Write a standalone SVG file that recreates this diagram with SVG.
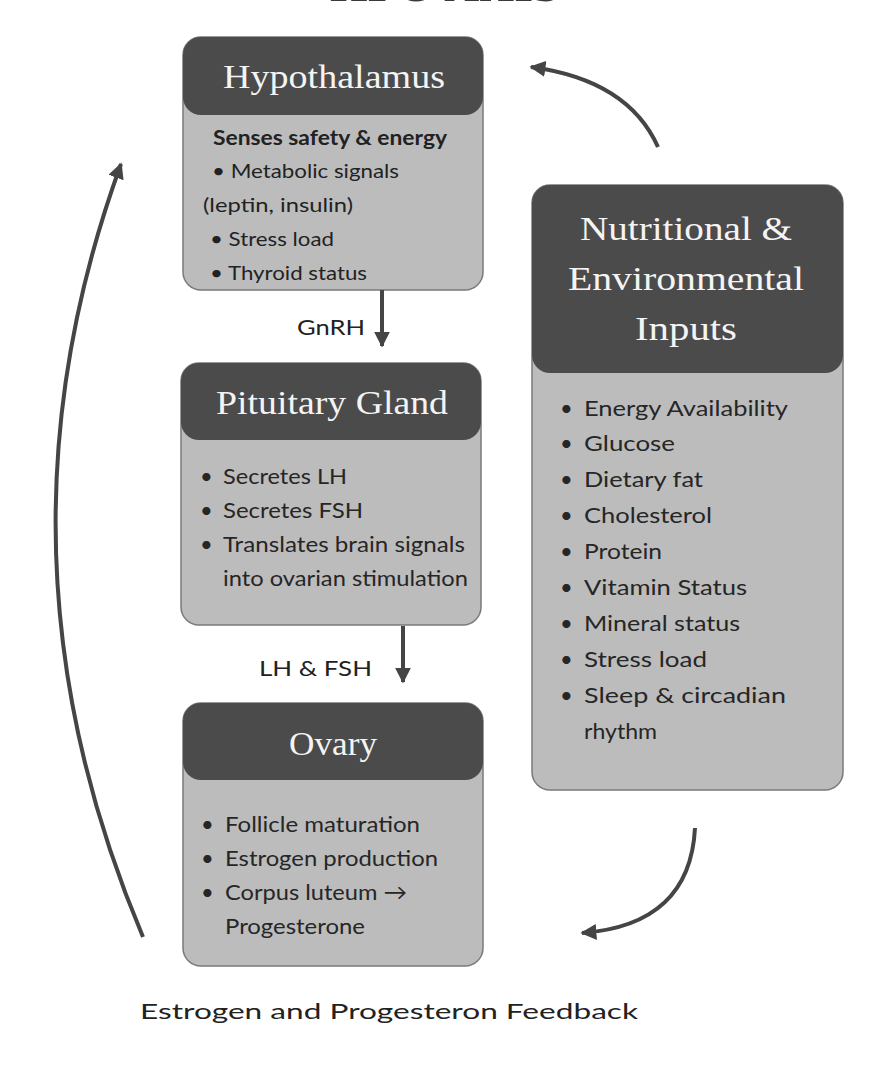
<svg xmlns="http://www.w3.org/2000/svg" width="892" height="1065" viewBox="0 0 892 1065">
  <style>
    .body { fill: #bcbcbc; stroke: #7a7a7a; stroke-width: 1.5; }
    .head { fill: #4b4b4b; }
    .title { font-family: "Liberation Serif", "DejaVu Serif", serif; fill: #f4f4f4; font-size: 34px; text-anchor: middle; }
    .txt { font-family: Lato, "Liberation Sans", sans-serif; fill: #262626; font-size: 22px; }
    .htxt { font-family: Lato, "Liberation Sans", sans-serif; fill: #222; font-size: 20px; }
    .conn { fill: none; stroke: #454545; stroke-width: 4; }
    .lbl { font-family: Lato, "Liberation Sans", sans-serif; fill: #222; font-size: 22px; }
  </style>
  <defs>
    <marker id="ah" viewBox="0 0 10 10" refX="9" refY="5" markerWidth="16" markerHeight="16" markerUnits="userSpaceOnUse" orient="auto">
      <path d="M0,0 L10,5 L0,10 z" fill="#454545"/>
    </marker>
  </defs>
  <rect width="892" height="1065" fill="#ffffff"/>

  <text x="445" y="1" text-anchor="middle" font-family="Liberation Serif, serif" font-weight="bold" font-size="50" fill="#3a3a3a" textLength="230" lengthAdjust="spacingAndGlyphs">HPO AXIS</text>

  <g id="hypothalamus">
    <rect class="body" x="183" y="37" width="300" height="253" rx="18"/>
    <rect class="head" x="183" y="37" width="300" height="78" rx="18"/>
    <text class="title" x="334" y="88" textLength="222" lengthAdjust="spacingAndGlyphs">Hypothalamus</text>
    <text class="htxt" x="213" y="145" font-weight="bold" textLength="234" lengthAdjust="spacingAndGlyphs">Senses safety &amp; energy</text>
    <text class="htxt" x="212" y="178" textLength="187" lengthAdjust="spacingAndGlyphs">• Metabolic signals</text>
    <text class="htxt" x="203" y="212" textLength="150" lengthAdjust="spacingAndGlyphs">(leptin, insulin)</text>
    <text class="htxt" x="210" y="246" textLength="124" lengthAdjust="spacingAndGlyphs">• Stress load</text>
    <text class="htxt" x="210" y="280" textLength="157" lengthAdjust="spacingAndGlyphs">• Thyroid status</text>
  </g>

  <g id="pituitary">
    <rect class="body" x="181" y="363" width="300" height="262" rx="18"/>
    <rect class="head" x="181" y="363" width="300" height="77" rx="18"/>
    <text class="title" x="332" y="414" textLength="232" lengthAdjust="spacingAndGlyphs">Pituitary Gland</text>
    <g class="txt">
      <text x="200" y="484">•</text>
      <text x="223" y="484" textLength="124" lengthAdjust="spacingAndGlyphs">Secretes LH</text>
      <text x="200" y="518">•</text>
      <text x="223" y="518" textLength="140" lengthAdjust="spacingAndGlyphs">Secretes FSH</text>
      <text x="200" y="552">•</text>
      <text x="223" y="552" textLength="242" lengthAdjust="spacingAndGlyphs">Translates brain signals</text>
      <text x="223" y="586" textLength="245" lengthAdjust="spacingAndGlyphs">into ovarian stimulation</text>
    </g>
  </g>

  <g id="ovary">
    <rect class="body" x="183" y="703" width="300" height="263" rx="18"/>
    <rect class="head" x="183" y="703" width="300" height="77" rx="18"/>
    <text class="title" x="333" y="755" textLength="88" lengthAdjust="spacingAndGlyphs">Ovary</text>
    <g class="txt">
      <text x="201" y="832">•</text>
      <text x="225" y="832" textLength="195" lengthAdjust="spacingAndGlyphs">Follicle maturation</text>
      <text x="201" y="866">•</text>
      <text x="225" y="866" textLength="213" lengthAdjust="spacingAndGlyphs">Estrogen production</text>
      <text x="201" y="900">•</text>
      <text x="225" y="900" textLength="182" lengthAdjust="spacingAndGlyphs">Corpus luteum →</text>
      <text x="225" y="934" textLength="140" lengthAdjust="spacingAndGlyphs">Progesterone</text>
    </g>
  </g>

  <g id="inputs">
    <rect class="body" x="532" y="185" width="311" height="605" rx="18"/>
    <rect class="head" x="532" y="185" width="311" height="188" rx="18"/>
    <text class="title" x="686" y="240" textLength="212" lengthAdjust="spacingAndGlyphs">Nutritional &amp;</text>
    <text class="title" x="686" y="290" textLength="236" lengthAdjust="spacingAndGlyphs">Environmental</text>
    <text class="title" x="686" y="340" textLength="102" lengthAdjust="spacingAndGlyphs">Inputs</text>
    <g class="txt">
      <text x="560" y="416">•</text><text x="584" y="416" textLength="204" lengthAdjust="spacingAndGlyphs">Energy Availability</text>
      <text x="560" y="451">•</text><text x="584" y="451" textLength="91" lengthAdjust="spacingAndGlyphs">Glucose</text>
      <text x="560" y="487">•</text><text x="584" y="487" textLength="119" lengthAdjust="spacingAndGlyphs">Dietary fat</text>
      <text x="560" y="523">•</text><text x="584" y="523" textLength="128" lengthAdjust="spacingAndGlyphs">Cholesterol</text>
      <text x="560" y="559">•</text><text x="584" y="559" textLength="78" lengthAdjust="spacingAndGlyphs">Protein</text>
      <text x="560" y="595">•</text><text x="584" y="595" textLength="163" lengthAdjust="spacingAndGlyphs">Vitamin Status</text>
      <text x="560" y="631">•</text><text x="584" y="631" textLength="156" lengthAdjust="spacingAndGlyphs">Mineral status</text>
      <text x="560" y="667">•</text><text x="584" y="667" textLength="123" lengthAdjust="spacingAndGlyphs">Stress load</text>
      <text x="560" y="703">•</text><text x="584" y="703" textLength="202" lengthAdjust="spacingAndGlyphs">Sleep &amp; circadian</text>
      <text x="584" y="739" textLength="73" lengthAdjust="spacingAndGlyphs">rhythm</text>
    </g>
  </g>

  <g id="connectors">
    <path class="conn" d="M382,290 L382,346" marker-end="url(#ah)"/>
    <text class="lbl" x="297" y="335" textLength="68" lengthAdjust="spacingAndGlyphs">GnRH</text>
    <path class="conn" d="M403,626 L403,682" marker-end="url(#ah)"/>
    <text class="lbl" x="259" y="676" textLength="113" lengthAdjust="spacingAndGlyphs">LH &amp; FSH</text>
    <path class="conn" d="M658,147 Q628,80 531,67" marker-end="url(#ah)"/>
    <path class="conn" d="M695,828 Q690,925 582,933" marker-end="url(#ah)"/>
    <path class="conn" d="M143,937 Q-20,551 121,164" marker-end="url(#ah)"/>
    <text class="lbl" x="140" y="1019" font-size="29" textLength="498" lengthAdjust="spacingAndGlyphs">Estrogen and Progesteron Feedback</text>
  </g>
</svg>
